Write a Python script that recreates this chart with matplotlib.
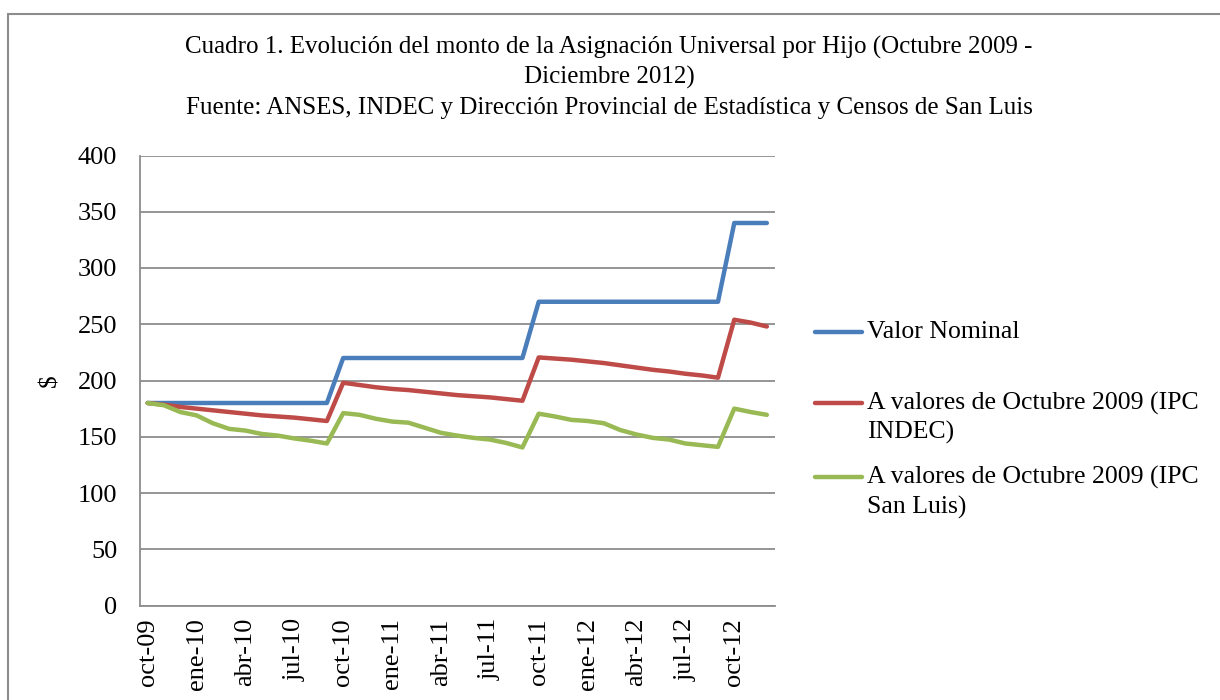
import matplotlib
matplotlib.use("Agg")
import matplotlib.pyplot as plt
from matplotlib.lines import Line2D
from matplotlib.patches import Rectangle

plt.rcParams['font.family'] = ['Liberation Serif', 'DejaVu Serif']

months = ["oct-09", "nov-09", "dic-09", "ene-10", "feb-10", "mar-10", "abr-10", "may-10", "jun-10",
          "jul-10", "ago-10", "sep-10", "oct-10", "nov-10", "dic-10", "ene-11", "feb-11", "mar-11",
          "abr-11", "may-11", "jun-11", "jul-11", "ago-11", "sep-11", "oct-11", "nov-11", "dic-11",
          "ene-12", "feb-12", "mar-12", "abr-12", "may-12", "jun-12", "jul-12", "ago-12", "sep-12",
          "oct-12", "nov-12", "dic-12"]
tick_labels = ["oct-09", "ene-10", "abr-10", "jul-10", "oct-10", "ene-11", "abr-11",
               "jul-11", "oct-11", "ene-12", "abr-12", "jul-12", "oct-12"]

valor_nominal = [180, 180, 180, 180, 180, 180, 180, 180, 180, 180, 180, 180,
                 220, 220, 220, 220, 220, 220, 220, 220, 220, 220, 220, 220,
                 270, 270, 270, 270, 270, 270, 270, 270, 270, 270, 270, 270,
                 340, 340, 340]
ipc_indec = [180, 178.5, 176.5, 175, 173.5, 172, 170.5, 169, 168, 167, 165.5, 164,
             198, 196, 194, 192.5, 191.5, 190, 188.5, 187, 186, 185, 183.5, 182,
             220.5, 219.5, 218.5, 217, 215.5, 213.5, 211.5, 209.5, 208, 206, 204.5, 202.5,
             254, 251.5, 248]
ipc_sanluis = [180, 178, 172, 169, 162, 157, 155.5, 152.5, 151, 148.5, 146.5, 144,
               171, 169.5, 166, 163.5, 162.5, 158, 153.5, 151, 149, 147.5, 144.5, 140.5,
               170.5, 168, 165, 164, 162, 156, 152, 149, 147.5, 144, 142.5, 141,
               175, 172, 169.5]

title_lines = ["Cuadro 1. Evolución del monto de la Asignación Universal por Hijo (Octubre 2009 -",
               "Diciembre 2012)",
               "Fuente: ANSES, INDEC y Dirección Provincial de Estadística y Censos de San Luis"]
series_names = [["Valor Nominal"],
                ["A valores de Octubre 2009 (IPC", "INDEC)"],
                ["A valores de Octubre 2009 (IPC", "San Luis)"]]
colors = ["#4A7EBB", "#BE4B48", "#98B954"]

W, H = 1220, 700
fig = plt.figure(figsize=(W / 100, H / 100), dpi=100)

# outer frame
fig.add_artist(Rectangle((8 / W, -0.1), 1.2, (H - 14) / H + 0.1, transform=fig.transFigure,
                         fill=False, edgecolor="#8c8c8c", linewidth=1.5))

ax = fig.add_axes([139.5 / W, (H - 605.5) / H, (775 - 139.5) / W, (605.5 - 155.5) / H])
x = list(range(len(months)))
for vals, c in zip([valor_nominal, ipc_indec, ipc_sanluis], colors):
    ax.plot(x, vals, color=c, linewidth=3.2, solid_capstyle="round", solid_joinstyle="round", zorder=3)

ax.set_xlim(-0.5, len(months) - 0.5)
ax.set_ylim(0, 400)
ax.set_yticks(range(0, 401, 50))
ax.set_xticks([months.index(m) if m in months else 9 * 3 for m in tick_labels])
ax.set_xticklabels(tick_labels, rotation=90, fontsize=19)
ax.tick_params(axis="y", labelsize=19, length=0, pad=16)
ax.tick_params(axis="x", length=0, pad=9)
ax.grid(axis="y", color="#8c8c8c", linewidth=1.3)
ax.set_axisbelow(True)
for s in ["top", "right"]:
    ax.spines[s].set_visible(False)
for s in ["left", "bottom"]:
    ax.spines[s].set_color("#8c8c8c")
    ax.spines[s].set_linewidth(1.3)
ax.set_ylabel("$", fontsize=18, labelpad=12)

for line, yy in zip(title_lines, [47, 77, 108]):
    fig.text(609 / W, 1 - yy / H, line, ha="center", va="center", fontsize=18)

# legend
leg_y = [[332], [403, 432], [477, 507]]
for names, c, ys in zip(series_names, colors, leg_y):
    fig.add_artist(Line2D([815 / W, 862 / W], [1 - ys[0] / H, 1 - ys[0] / H], transform=fig.transFigure,
                          color=c, linewidth=3.2, solid_capstyle="round"))
    for name, yy in zip(names, ys):
        fig.text(867 / W, 1 - yy / H, name, ha="left", va="center", fontsize=18.5)

fig.savefig("out.png", dpi=100)
